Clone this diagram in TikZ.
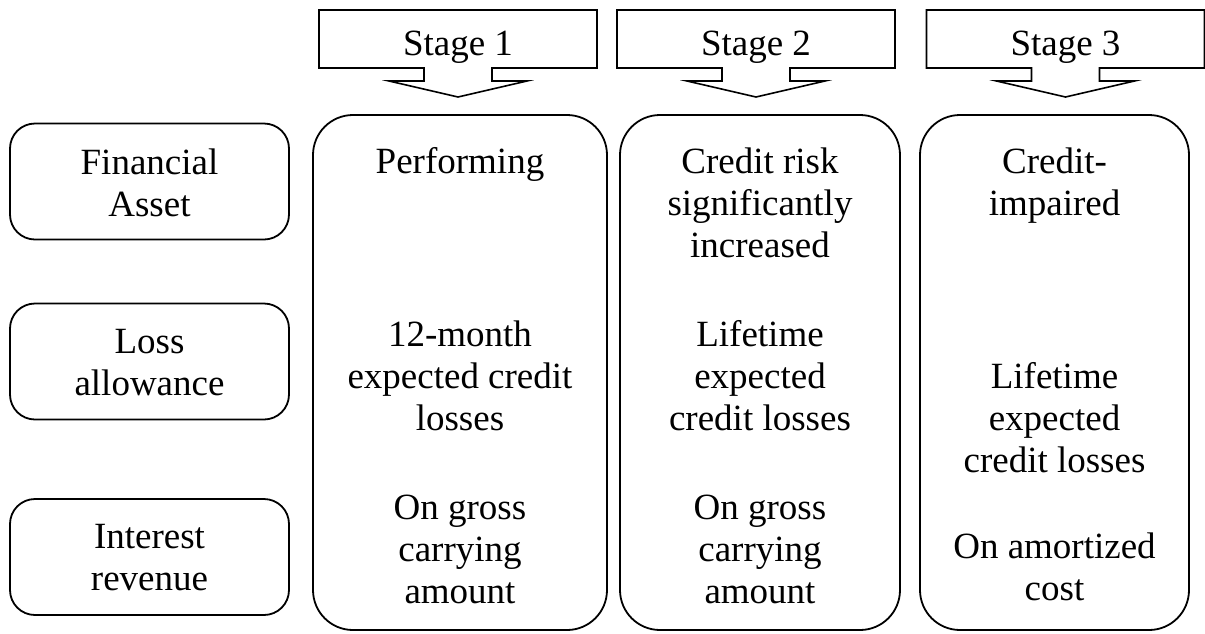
\documentclass[tikz,border=0pt]{standalone}
\usepackage{fontspec}
\setmainfont{Liberation Serif}
\begin{document}
\begin{tikzpicture}[x=1pt,y=-1pt,
  lbl/.style={font=\fontsize{37}{42}\selectfont, align=center, inner sep=0pt, anchor=base},
  rowbox/.style={draw, line width=1.8pt, rounded corners=25pt, minimum width=279pt, minimum height=116pt, inner sep=0pt},
  colbox/.style={draw, line width=1.8pt, rounded corners=40pt, inner sep=0pt},
  callout/.style={draw, line width=1.6pt, line join=miter}]
\useasboundingbox (0,0) rectangle (1205,633);

% stage callouts: a box with a short shaft and a wide arrow head
\foreach \n/\cx in {1/458, 2/756, 3/1065.5} {
  \draw[callout] (\cx-139,10) -- (\cx+139,10) -- (\cx+139,68) -- (\cx+34,68)
    -- (\cx+34,81) -- (\cx+69,81) -- (\cx,97) -- (\cx-69,81) -- (\cx-34,81)
    -- (\cx-34,68) -- (\cx-139,68) -- cycle;
  \node[lbl] (stage\n) at (\cx,55) {Stage \n};
}

% row headings (base anchor = baseline of the last line)
\node[rowbox] (fa) at (149.5,181.5) {};
\node[rowbox] (la) at (149.5,361.5) {};
\node[rowbox] (ir) at (149.5,557) {};
\node[lbl] (fat) at (fa.center |- 0,216) {Financial\\Asset};
\node[lbl] (lat) at (la.center |- 0,395) {Loss\\allowance};
\node[lbl] (irt) at (ir.center |- 0,590) {Interest\\revenue};

% stage columns
\node[colbox, minimum width=294pt, minimum height=515pt] (c1) at (460,372.5) {};
\node[colbox, minimum width=280pt, minimum height=515pt] (c2) at (760,372.5) {};
\node[colbox, minimum width=269pt, minimum height=515pt] (c3) at (1054.5,372.5) {};

% stage 1 entries
\node[lbl] (a1) at (c1.center |- 0,173) {Performing};
\node[lbl] (b1) at (c1.center |- 0,430) {12-month\\expected credit\\losses};
\node[lbl] (d1) at (c1.center |- 0,603) {On gross\\carrying\\amount};

% stage 2 entries
\node[lbl] (a2) at (c2.center |- 0,257) {Credit risk\\significantly\\increased};
\node[lbl] (b2) at (c2.center |- 0,430) {Lifetime\\expected\\credit losses};
\node[lbl] (d2) at (c2.center |- 0,603) {On gross\\carrying\\amount};

% stage 3 entries
\node[lbl] (a3) at (c3.center |- 0,215) {Credit-\\impaired};
\node[lbl] (b3) at (c3.center |- 0,472) {Lifetime\\expected\\credit losses};
\node[lbl] (d3) at (c3.center |- 0,600) {On amortized\\cost};
\end{tikzpicture}
\end{document}
